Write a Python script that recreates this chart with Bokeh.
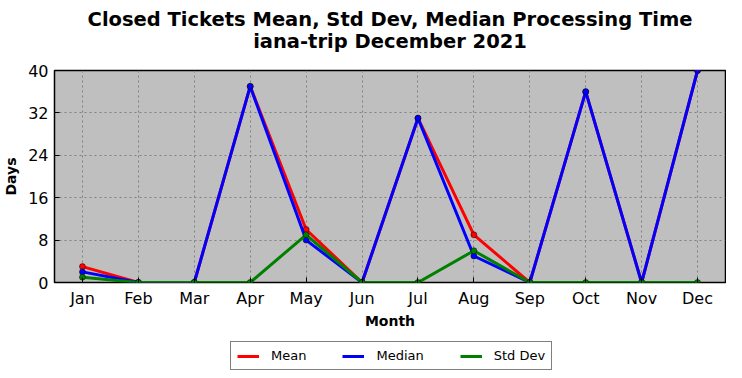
from bokeh.plotting import figure
from bokeh.layouts import column
from bokeh.models import FixedTicker, Legend, LegendItem, ColumnDataSource, Range1d, Label
from bokeh.embed import file_html
from bokeh.resources import INLINE

months = ["Jan", "Feb", "Mar", "Apr", "May", "Jun", "Jul", "Aug", "Sep", "Oct", "Nov", "Dec"]
mean = [3, 0, 0, 37, 10, 0, 31, 9, 0, 36, 0, 40]
median = [2, 0, 0, 37, 8, 0, 31, 5, 0, 36, 0, 40]
std_dev = [1, 0, 0, 0, 9, 0, 0, 6, 0, 0, 0, 0]
y_ticks = [0, 8, 16, 24, 32, 40]
series_names = ["Mean", "Median", "Std Dev"]
series_cols = ["mean", "median", "std"]
series_colors = ["red", "blue", "green"]
title_lines = ["Closed Tickets Mean, Std Dev, Median Processing Time", "iana-trip December 2021"]

FONT = "DejaVu Sans"

# header with the two centred title lines
hd = figure(width=726, height=60, x_range=Range1d(0, 1), y_range=Range1d(0, 1),
            output_backend="svg", toolbar_location=None, x_axis_type=None, y_axis_type=None,
            min_border_left=0, min_border_right=0, min_border_top=0, min_border_bottom=0)
hd.outline_line_color = None
hd.xgrid.visible = False
hd.ygrid.visible = False
for txt, ypix in zip(title_lines, [41, 19]):
    hd.add_layout(Label(x=0.5, y=ypix, x_units="data", y_units="screen", text=txt,
                        text_align="center", text_baseline="middle", text_font=FONT,
                        text_font_size="19.5px", text_font_style="bold", text_color="black"))

p = figure(width=726, height=275, x_range=months, y_range=Range1d(0, 40),
           output_backend="svg", toolbar_location=None,
           min_border_left=49, min_border_right=1, min_border_top=10, min_border_bottom=53)
p.title = None

p.background_fill_color = "#bfbfbf"
p.border_fill_color = "white"
p.outline_line_color = "black"
p.outline_line_width = 1.5

for g in (p.xgrid, p.ygrid):
    g.grid_line_color = "#808080"
    g.grid_line_dash = "2 3"
    g.grid_line_width = 1

p.yaxis.ticker = FixedTicker(ticks=y_ticks)
for ax in (p.xaxis, p.yaxis):
    ax.major_label_text_font = FONT
    ax.major_label_text_font_size = "16px"
    ax.major_label_text_color = "black"
    ax.axis_label_text_font = FONT
    ax.axis_label_text_font_size = "14px"
    ax.axis_label_text_font_style = "bold"
    ax.axis_label_text_color = "black"
    ax.axis_line_color = None
    ax.major_tick_in = 5
    ax.major_tick_out = 0
    ax.minor_tick_line_color = None
    ax.major_tick_line_color = "black"
p.xaxis.axis_label = "Month"
p.yaxis.axis_label = "Days"
p.xaxis.major_label_standoff = 6
p.yaxis.major_label_standoff = 6
p.xaxis.axis_label_standoff = 2
p.yaxis.axis_label_standoff = 6

src = ColumnDataSource(dict(m=months, mean=mean, median=median, std=std_dev))
for col, c in zip(series_cols, series_colors):
    p.line("m", col, source=src, line_color=c, line_width=3)
    p.scatter("m", col, source=src, size=6, fill_color=c, line_color="black",
              line_alpha=0.6, line_width=0.8)

# legend panel below the chart (its lines lie outside its own view)
lg = figure(width=726, height=35, x_range=months, y_range=Range1d(1000, 1001),
            output_backend="svg", toolbar_location=None,
            x_axis_type=None, y_axis_type=None,
            min_border_left=0, min_border_right=0, min_border_top=0, min_border_bottom=0)
lg.outline_line_color = None
lg.xgrid.visible = False
lg.ygrid.visible = False
items = []
for name, col, c in zip(series_names, series_cols, series_colors):
    r = lg.line("m", col, source=src, line_color=c, line_width=3)
    items.append(LegendItem(label=name, renderers=[r]))
legend = Legend(items=items, orientation="horizontal", location=(176, 0),
                label_text_font=FONT, label_text_font_size="13px", label_text_color="black",
                border_line_color="black", border_line_width=1.5,
                glyph_width=22, glyph_height=12, label_standoff=12, spacing=36,
                padding=6, margin=0, label_height=12, background_fill_color="white",
                background_fill_alpha=1)
lg.add_layout(legend, "center")

layout = column(hd, p, lg, spacing=0)
open("out.html", "w").write(file_html(layout, INLINE))
